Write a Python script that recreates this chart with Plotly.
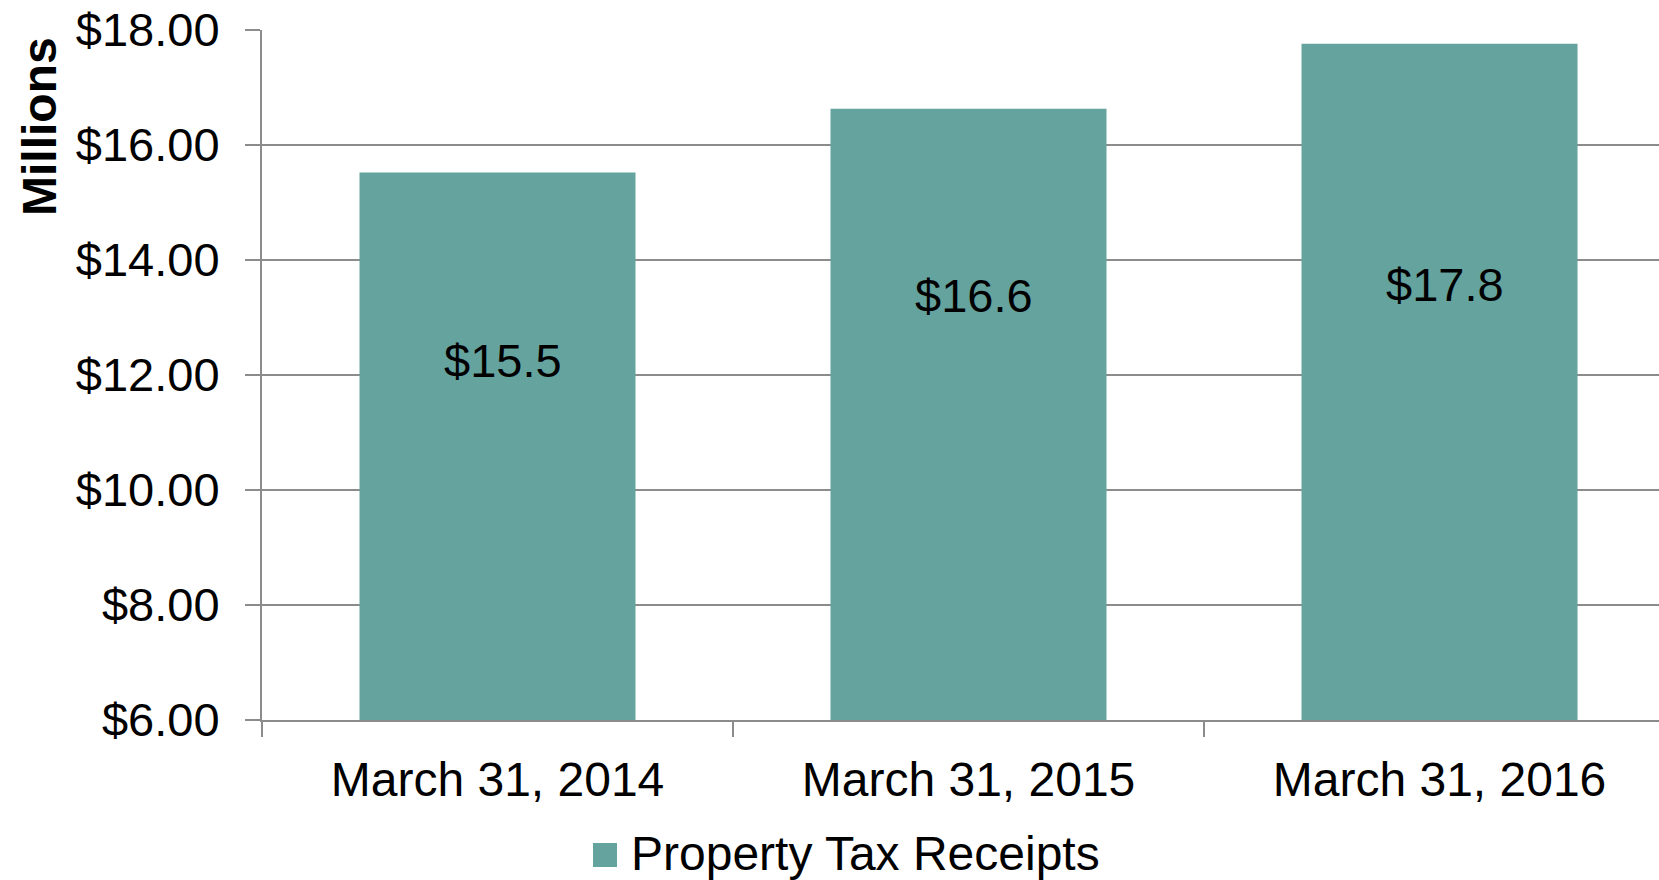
import plotly.graph_objects as go

categories = ["March 31, 2014", "March 31, 2015", "March 31, 2016"]
values = [15.52, 16.63, 17.76]
labels = ["$15.5", "$16.6", "$17.8"]
series_name = "Property Tax Receipts"
y_title = "Millions"
label_pos = [12.26, 13.38, 13.57]

BAR = "#65A39F"
GRID = "#8C8C8C"
FONT = "Liberation Sans, Arial, sans-serif"
FS = 47
FS_X = 48

W, H = 1659, 880
L, R, T, B = 262, 0, 30, 160
pw, ph = W - L - R, H - T - B

fig = go.Figure()
fig.add_trace(go.Bar(
    x=categories, y=values, name=series_name,
    marker=dict(color=BAR, line=dict(width=0)),
    width=0.586, showlegend=False, hoverinfo="skip",
))

for c, t, p in zip(categories, labels, label_pos):
    fig.add_annotation(x=c, y=p, text=t, showarrow=False, xref="x", yref="y",
                       yanchor="middle", xanchor="center", xshift=5,
                       font=dict(family=FONT, size=FS, color="black"))

# y-axis title (pixel position converted to paper coords)
fig.add_annotation(x=(39 - L) / pw, y=(H - B - 127) / ph, xref="paper", yref="paper",
                   text="<b>" + y_title + "</b>", showarrow=False, textangle=-90,
                   xanchor="center", yanchor="middle",
                   font=dict(family=FONT, size=48, color="black"))

# legend: square + text
sq_x0, sq_x1 = 593, 617
sq_y0, sq_y1 = 843, 867
fig.add_shape(type="rect", xref="paper", yref="paper",
              x0=(sq_x0 - L) / pw, x1=(sq_x1 - L) / pw,
              y0=(H - B - sq_y1) / ph, y1=(H - B - sq_y0) / ph,
              fillcolor=BAR, line=dict(width=0))
fig.add_annotation(x=(629 - L) / pw, y=(H - B - 853) / ph, xref="paper", yref="paper",
                   text=series_name, showarrow=False, xanchor="left", yanchor="middle",
                   font=dict(family=FONT, size=FS_X, color="black"))

fig.update_layout(
    width=W, height=H,
    margin=dict(l=L, r=R, t=T, b=B, autoexpand=False),
    paper_bgcolor="white", plot_bgcolor="white",
    font=dict(family=FONT, size=FS, color="black"),
)

fig.update_xaxes(
    type="category", range=[-0.5, 2.466],
    showline=True, linecolor=GRID, linewidth=2,
    ticks="outside", tickson="boundaries", ticklen=15, tickcolor=GRID, tickwidth=2,
    showgrid=False, ticklabelstandoff=16,
    tickfont=dict(family=FONT, size=FS_X, color="black"),
)
fig.update_yaxes(
    range=[6, 18], dtick=2, tick0=6, tickprefix="$", tickformat=".2f",
    showline=True, linecolor=GRID, linewidth=2,
    ticks="outside", ticklen=15, tickcolor=GRID, tickwidth=2,
    showgrid=True, gridcolor=GRID, gridwidth=2, zeroline=False,
    ticklabelstandoff=16,
    tickfont=dict(family=FONT, size=FS, color="black"),
)

fig.write_html("out.html", config={"displayModeBar": False},
               post_script="document.body.style.margin='0';document.body.style.overflow='hidden';")
